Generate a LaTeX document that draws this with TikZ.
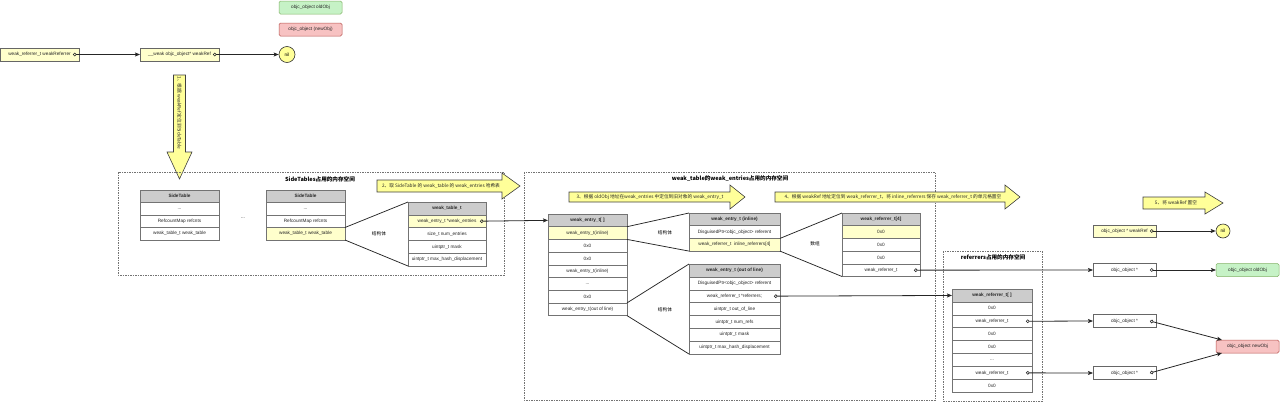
\documentclass[tikz,border=0pt]{standalone}
\usepackage{fontspec}
\setmainfont{Liberation Sans}
\newfontfamily\cjk{Noto Sans CJK SC}
\usetikzlibrary{arrows.meta}
\definecolor{cy}{HTML}{FFFFCC}
\definecolor{ay}{HTML}{FFFF99}
\definecolor{hd}{HTML}{CCCCCC}
\definecolor{gf}{HTML}{C6F2C6}\definecolor{gs}{HTML}{82B366}
\definecolor{rf}{HTML}{F7C2C2}\definecolor{rs}{HTML}{B85450}
\newcommand\fs{\fontsize{4.7}{5.5}\selectfont}
\def\rowh{12.7}
\begin{document}
\begin{tikzpicture}[x=1pt,y=-1pt,
  cell/.style={draw=black!55, line width=0.45pt, minimum width=#1, minimum height=\rowh pt,
    inner sep=0pt, outer sep=0pt, anchor=north west, font=\fs, fill=white, text=black!85},
  hdr/.style={cell=#1, fill=hd, font=\fs\bfseries},
  ycell/.style={cell=#1, fill=cy},
  rbox/.style={draw=black!60, line width=0.5pt, minimum width=#1, minimum height=13pt,
    inner sep=0pt, outer sep=0pt, anchor=north west, font=\fs, fill=white, text=black!85},
  gbox/.style={rbox=#1, fill=gf, draw=gs, rounded corners=1.5pt},
  pbox/.style={rbox=#1, fill=rf, draw=rs, rounded corners=1.5pt},
  nilc/.style={circle, draw=black!80, line width=0.6pt, fill=ay, minimum size=#1, inner sep=0pt, font=\fs},
  conn/.style={draw=black!85, line width=0.8pt,
    {Circle[open,length=3.6pt,width=3.6pt,line width=0.6pt]}-{Stealth[length=5pt,width=4pt,inset=1pt]}},
  fan/.style={draw=black!85, line width=0.75pt},
  region/.style={draw=black!55, line width=0.5pt, dash pattern=on 1.5pt off 1pt},
  title/.style={font=\fontsize{5.6}{6.5}\selectfont\cjk\bfseries, inner sep=0pt},
  lbl/.style={font=\fontsize{4.7}{5.5}\selectfont\cjk, inner sep=0pt},
  big/.style={draw=black!75, line width=0.6pt, fill=ay},
  atext/.style={font=\fontsize{4.7}{5.5}\selectfont\cjk, inner sep=0pt, text=black!85}
]
\useasboundingbox (0,0) rectangle (1280,402);

% ---------- top ----------
\node[gbox=63] (old1) at (279,1) {objc\_object oldObj};
\node[pbox=63] (new1) at (279,23) {objc\_object (newObj)};
\node[rbox=79, fill=cy] (top1) at (0,48) {weak\_referrer\_t weakReferrer};
\node[rbox=79, fill=cy] (top2) at (140,48) {\_\_weak objc\_object* weakRef};
\node[nilc=16pt] (nil1) at (287,54.5) {nil};
\coordinate (s1) at ([xshift=-6pt]top1.east);
\coordinate (s2) at ([xshift=-6pt]top2.east);
\draw[conn] (s1) -- (top2.west);
\draw[conn] (s2) -- (nil1.west);

% ---------- big arrow 1 ----------
\draw[big] (173.5,75) -- (185.5,75) -- (185.5,152) -- (192,152) -- (179.5,179) -- (167,152) -- (173.5,152) -- cycle;
\node[atext, rotate=-90] (t1) at (179.5,113) {1、根据 weakRef 定位到SideTable};

% ---------- regions ----------
\draw[region] (118,172) rectangle (504,275);
\node[title] (tt1) at (320,179) {SideTables占用的内存空间};
\draw[region] (524,172) rectangle (935,400);
\node[title] (tt2) at (730,179) {weak\_table的weak\_entries占用的内存空间};
\draw[region] (943,251) rectangle (1042,401);
\node[title] (tt3) at (993,257) {referrers占用的内存空间};

% ---------- SideTables ----------
\def\rowh{12.5}
\node[hdr=79] (sa0) at (140,190) {SideTable};
\node[cell=79] (sa1) at (140,202.5) {...};
\node[cell=79] (sa2) at (140,215) {RefcountMap refcnts};
\node[cell=79] (sa3) at (140,227.5) {weak\_table\_t weak\_table};
\node[font=\fs] (dots) at (243,218) {...};
\node[hdr=79] (sb0) at (266,190) {SideTable};
\node[cell=79] (sb1) at (266,202.5) {...};
\node[cell=79] (sb2) at (266,215) {RefcountMap refcnts};
\node[ycell=79] (sb3) at (266,227.5) {weak\_table\_t weak\_table};

\def\rowh{12.8}
\node[hdr=78] (wt0) at (408,202) {weak\_table\_t};
\node[ycell=78] (wt1) at (408,214.8) {weak\_entry\_t *weak\_entries};
\node[cell=78] (wt2) at (408,227.6) {size\_t num\_entries};
\node[cell=78] (wt3) at (408,240.4) {uintptr\_t mask};
\node[cell=78] (wt4) at (408,253.2) {uintptr\_t max\_hash\_displacement};
\draw[fan] (sb3.north east) -- (wt0.north west);
\draw[fan] (sb3.south east) -- (wt4.south west);
\node[lbl] (l1) at (379,234) {结构体};

% ---------- big arrow 2 ----------
\draw[big] (377,180) -- (502,180) -- (502,173) -- (520,186) -- (502,199) -- (502,192) -- (377,192) -- cycle;
\node[atext] (t2) at (441,186) {2、取 SideTable 的 weak\_table 的 weak\_entries 哈希表};

% ---------- weak_entries ----------
\def\rowh{12.7}
\node[hdr=79] (we0) at (548,214) {weak\_entry\_t[ ]};
\node[ycell=79] (we1) at (548,226.7) {weak\_entry\_t(inline)};
\node[cell=79] (we2) at (548,239.4) {0x0};
\node[cell=79] (we3) at (548,252.1) {0x0};
\node[cell=79] (we4) at (548,264.8) {weak\_entry\_t(inline)};
\node[cell=79] (we5) at (548,277.5) {...};
\node[cell=79] (we6) at (548,290.2) {0x0};
\node[cell=79] (we7) at (548,302.9) {weak\_entry\_t(out of line)};
\coordinate (s3) at ([xshift=-6pt]wt1.east);
\draw[conn] (s3) -- (we0.west);

\node[hdr=91] (ei0) at (689,213) {weak\_entry\_t (inline)};
\node[cell=91] (ei1) at (689,225.7) {DisguisedPtr<objc\_object> referent};
\node[ycell=91] (ei2) at (689,238.4) {weak\_referrer\_t\ \ inline\_referrers[4]};
\draw[fan] (we1.north east) -- (ei0.north west);
\draw[fan] (we1.south east) -- (ei2.south west);
\node[lbl] (l2) at (665,233) {结构体};

\node[hdr=78] (r40) at (842,213) {weak\_referrer\_t[4]};
\node[ycell=78] (r41) at (842,225.7) {0x0};
\node[cell=78] (r42) at (842,238.4) {0x0};
\node[cell=78] (r43) at (842,251.1) {0x0};
\node[cell=78] (r44) at (842,263.8) {weak\_referrer\_t};
\draw[fan] (ei2.north east) -- (r40.north west);
\draw[fan] (ei2.south east) -- (r44.south west);
\node[lbl] (l3) at (815,244) {数组};

\def\rowh{12.86}
\node[hdr=91] (eo0) at (689,264) {weak\_entry\_t (out of line)};
\node[cell=91] (eo1) at (689,276.86) {DisguisedPtr<objc\_object> referent};
\node[cell=91] (eo2) at (689,289.72) {weak\_referrer\_t *referrers;};
\node[cell=91] (eo3) at (689,302.58) {uintptr\_t out\_of\_line};
\node[cell=91] (eo4) at (689,315.44) {uintptr\_t num\_refs};
\node[cell=91] (eo5) at (689,328.3) {uintptr\_t mask};
\node[cell=91] (eo6) at (689,341.16) {uintptr\_t max\_hash\_displacement};
\draw[fan] (we7.north east) -- (eo0.north west);
\draw[fan] (we7.south east) -- (eo6.south west);
\node[lbl] (l4) at (665,310) {结构体};

% ---------- big arrows 3, 4 ----------
\draw[big] (569,192) -- (730,192) -- (730,185) -- (745,197) -- (730,209) -- (730,202) -- (569,202) -- cycle;
\node[atext] (t3) at (650,197) {3、根据 oldObj 地址在weak\_entries 中定位到旧对象的 weak\_entry\_t};
\draw[big] (775,192) -- (1005,192) -- (1005,185) -- (1020,197) -- (1005,209) -- (1005,202) -- (775,202) -- cycle;
\node[atext] (t4) at (893,197) {4、根据 weakRef 地址定位到 weak\_referrer\_t，将 inline\_referrers 保存 weak\_referrer\_t 的单元格置空};

% ---------- referrers ----------
\def\rowh{12.9}
\node[hdr=80] (rr0) at (952,289) {weak\_referrer\_t[ ]};
\node[cell=80] (rr1) at (952,301.9) {0x0};
\node[cell=80] (rr2) at (952,314.8) {weak\_referrer\_t};
\node[cell=80] (rr3) at (952,327.7) {0x0};
\node[cell=80] (rr4) at (952,340.6) {0x0};
\node[cell=80] (rr5) at (952,353.5) {...};
\node[cell=80] (rr6) at (952,366.4) {weak\_referrer\_t};
\node[cell=80] (rr7) at (952,379.3) {0x0};
\coordinate (s4) at ([xshift=-6pt]eo2.east);
\draw[conn] (s4) -- (rr0.west);

% ---------- right side ----------
\draw[big] (1143,197) -- (1205,197) -- (1205,192) -- (1223,203) -- (1205,214) -- (1205,209) -- (1143,209) -- cycle;
\node[atext] (t5) at (1176,203) {5、将 weakRef 置空};

\node[rbox=63, fill=cy, minimum height=12pt] (wr) at (1093,225) {objc\_object * weakRef};
\node[nilc=14pt] (nil2) at (1223,231) {nil};
\coordinate (s5) at ([xshift=-6pt]wr.east);
\draw[conn] (s5) -- (nil2.west);

\node[rbox=63] (ob1) at (1093,263.5) {objc\_object *};
\node[gbox=63] (old2) at (1216,263.5) {objc\_object oldObj};
\node[rbox=63] (ob2) at (1093,314.5) {objc\_object *};
\node[rbox=63] (ob3) at (1093,366.5) {objc\_object *};
\node[pbox=63] (new2) at (1216,340) {objc\_object newObj};

\coordinate (s6) at ([xshift=-6pt]r44.east);
\draw[conn] (s6) -- (ob1.west);
\coordinate (s7) at ([xshift=-6pt]ob1.east);
\draw[conn] (s7) -- (old2.west);
\coordinate (s8) at ([xshift=-6pt]rr2.east);
\draw[conn] (s8) -- (ob2.west);
\coordinate (s9) at ([xshift=-6pt]rr6.east);
\draw[conn] (s9) -- (ob3.west);
\coordinate (s10) at ([xshift=-6pt]ob2.east);
\coordinate (e10) at ([xshift=6pt]new2.north west);
\draw[conn] (s10) -- (e10);
\coordinate (s11) at ([xshift=-6pt]ob3.east);
\coordinate (e11) at ([xshift=6pt]new2.south west);
\draw[conn] (s11) -- (e11);
\end{tikzpicture}
\end{document}
